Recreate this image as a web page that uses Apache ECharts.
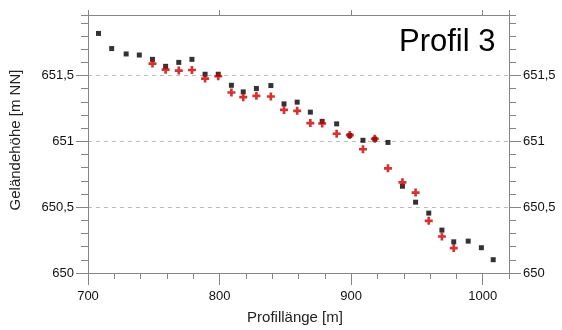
<!DOCTYPE html>
<html>
<head>
<meta charset="utf-8">
<script src="https://cdn.jsdelivr.net/npm/echarts@6/dist/echarts.min.js"></script>
<style>
html,body{margin:0;padding:0;background:#fff;}
#chart{width:562px;height:330px;}
</style>
</head>
<body>
<div id="chart"></div>
<script>
// Profile distance (m) and terrain height (m NN)
const blackX = [708,718,729,739,749,759,769,779,789,799,809,818,828,839,849,859,869,878,889,899,909,918,928,939,949,959,969,978,989,999,1008];
const blackY = [651.82,651.705,651.664,651.656,651.623,651.57,651.60,651.623,651.51,651.51,651.426,651.376,651.402,651.424,651.285,651.298,651.222,651.152,651.133,651.045,651.008,651.017,650.992,650.659,650.538,650.455,650.326,650.237,650.242,650.192,650.101];
const redX = [749,759,769,779,789,799,809,818,828,839,849,859,869,878,889,899,909,918,928,939,949,959,969,978];
const redY = [651.591,651.545,651.538,651.542,651.477,651.495,651.371,651.336,651.346,651.341,651.239,651.232,651.139,651.136,651.058,651.048,650.94,651.02,650.795,650.689,650.611,650.396,650.277,650.189];
const xTitle = 'Profillänge [m]';
const yTitle = 'Geländehöhe [m NN]';
const chartTitle = 'Profil 3';

const blackData = blackX.map((x, i) => [x, blackY[i]]);
const redData = redX.map((x, i) => [x, redY[i]]);

const AX = '#858585';
const FONT = '"Liberation Sans", Arial, sans-serif';
const fmt = v => String(v).replace('.', ',');

const chart = echarts.init(document.getElementById('chart'), null, {renderer: 'canvas'});
const X0 = 700, X1 = 1020, Y0 = 650, Y1 = 651.96;

chart.setOption({
  animation: false,
  backgroundColor: '#fff',
  grid: {left: 88, right: 53, top: 15, bottom: 57, containLabel: false},
  xAxis: [
    { type: 'value', position: 'bottom', min: X0, max: X1, interval: 100,
      axisLine: {show: true, lineStyle: {color: AX, width: 1}},
      axisTick: {show: true, inside: false, length: 12, lineStyle: {color: AX}},
      axisLabel: {show: true, margin: 17, color: '#111', fontSize: 13, fontFamily: FONT, showMaxLabel: false, formatter: v => String(v)},
      splitLine: {show: false} },
    { type: 'value', position: 'bottom', min: X0, max: X1, interval: 20,
      axisLine: {show: false},
      axisTick: {show: true, inside: false, length: 6, lineStyle: {color: AX}},
      axisLabel: {show: false}, splitLine: {show: false} },
    { type: 'value', position: 'top', min: X0, max: X1, interval: 100,
      axisLine: {show: true, lineStyle: {color: AX, width: 1}},
      axisTick: {show: true, inside: false, length: 5, lineStyle: {color: AX}},
      axisLabel: {show: false}, splitLine: {show: false} }
  ],
  yAxis: [
    { type: 'value', position: 'left', min: Y0, max: Y1, interval: 0.5,
      axisLine: {show: true, lineStyle: {color: AX, width: 1}},
      axisTick: {show: true, inside: false, length: 12, lineStyle: {color: AX}},
      axisLabel: {show: true, margin: 14, color: '#111', fontSize: 13, fontFamily: FONT, formatter: fmt, showMaxLabel: false},
      splitLine: {show: true, lineStyle: {color: '#bdbdbd', type: [4, 4], width: 1}} },
    { type: 'value', position: 'left', min: Y0, max: Y1, interval: 0.1,
      axisLine: {show: false},
      axisTick: {show: true, inside: false, length: 7, lineStyle: {color: AX}},
      axisLabel: {show: false}, splitLine: {show: false} },
    { type: 'value', position: 'right', min: Y0, max: Y1, interval: 0.5,
      axisLine: {show: true, lineStyle: {color: AX, width: 1}},
      axisTick: {show: true, inside: false, length: 12, lineStyle: {color: AX}},
      axisLabel: {show: true, margin: 14, color: '#111', fontSize: 13, fontFamily: FONT, formatter: fmt, showMaxLabel: false},
      splitLine: {show: false} },
    { type: 'value', position: 'right', min: Y0, max: Y1, interval: 0.1,
      axisLine: {show: false},
      axisTick: {show: true, inside: false, length: 7, lineStyle: {color: AX}},
      axisLabel: {show: false}, splitLine: {show: false} }
  ],
  series: [
    { type: 'scatter', xAxisIndex: 0, yAxisIndex: 0, data: blackData,
      symbol: 'rect', symbolSize: 5, itemStyle: {color: '#000'}, z: 3 },
    { type: 'scatter', xAxisIndex: 0, yAxisIndex: 0, data: redData,
      symbol: 'path://M2,0h2v2h2v2h-2v2h-2v-2h-2v-2h2z', symbolSize: 8,
      itemStyle: {color: '#c80000'}, z: 4 }
  ],
  graphic: [
    { type: 'text', left: 399, top: 27, style: {text: chartTitle, fontSize: 31, fontFamily: FONT, fill: '#000'} },
    { type: 'text', x: 295, y: 318, style: {text: xTitle, fontSize: 15, fontFamily: FONT, fill: '#222', align: 'center', verticalAlign: 'middle'} },
    { type: 'text', x: 16, y: 140, rotation: Math.PI / 2, style: {text: yTitle, fontSize: 15, fontFamily: FONT, fill: '#222', align: 'center', verticalAlign: 'middle'} }
  ]
});
</script>
</body>
</html>
